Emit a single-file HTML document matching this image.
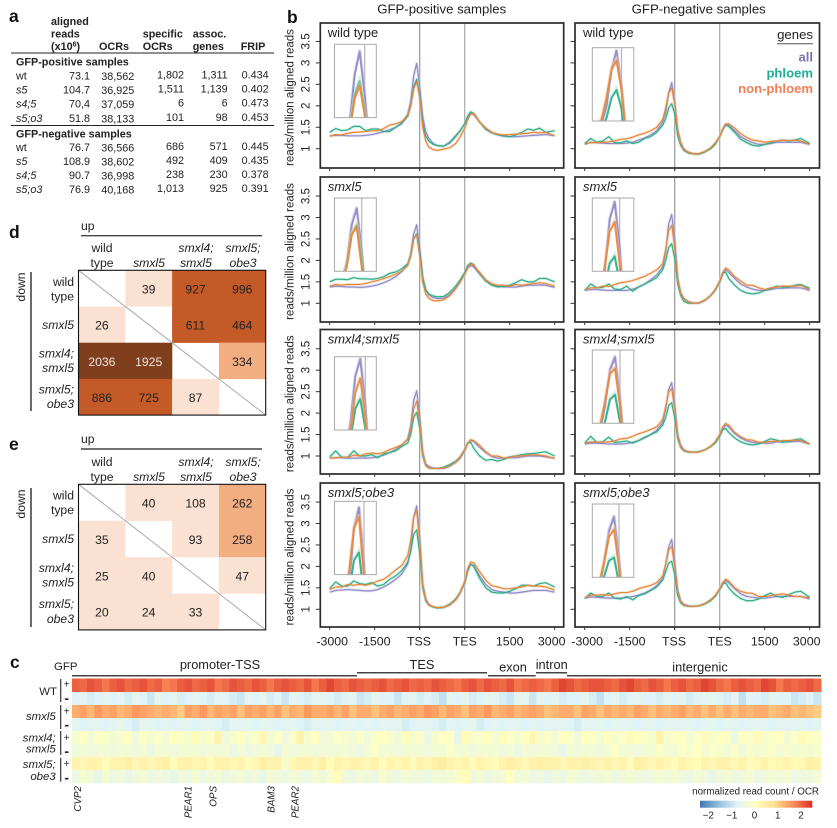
<!DOCTYPE html>
<html lang="en">
<head>
<meta charset="utf-8">
<title>ATAC-seq figure panels</title>
<style>
html,body{margin:0;padding:0;background:#fff;width:837px;height:828px;overflow:hidden}
svg{display:block;font-family:"Liberation Sans",Arial,sans-serif;fill:#222}
.pl{font-weight:bold;font-size:17.5px;fill:#111}
.tb{font-size:10.8px}
.b{font-weight:bold}
.i{font-style:italic}
.m{font-size:12.2px}
.hl{font-size:12.8px}
.g{font-size:9.8px;font-style:italic}
.c{font-size:11.4px}
</style>
</head>
<body>
<svg id="figure" xmlns="http://www.w3.org/2000/svg" width="837" height="828" viewBox="0 0 837 828">

<!-- Panel a: table -->
<g id="panel-a" class="tb">
  <text class="pl" x="9" y="22">a</text>
  <g class="b">
    <text x="51" y="25">aligned</text><text x="51" y="37.5">reads</text><text x="51" y="50">(x10<tspan font-size="7" dy="-3.5">6</tspan><tspan dy="3.5">)</tspan></text>
    <text x="99" y="50">OCRs</text>
    <text x="142.7" y="37.5">specific</text><text x="142.7" y="50">OCRs</text>
    <text x="192.7" y="37.5">assoc.</text><text x="192.7" y="50">genes</text>
    <text x="240.7" y="50">FRIP</text>
  </g>
  <line x1="11" x2="274" y1="53" y2="53" stroke="#222" stroke-width="1"/>
  <text class="b" x="16" y="65.5">GFP-positive samples</text>
  <g><text x="16" y="79.5">wt</text><text text-anchor="end" x="90" y="79.5">73.1</text><text text-anchor="end" x="134.3" y="80.2">38,562</text><text text-anchor="end" x="184" y="78.5">1,802</text><text text-anchor="end" x="227.7" y="78.5">1,311</text><text text-anchor="end" x="268.7" y="78.5">0.434</text></g>
  <g><text class="i" x="16" y="93.5">s5</text><text text-anchor="end" x="90" y="93.5">104.7</text><text text-anchor="end" x="134.3" y="94.2">36,925</text><text text-anchor="end" x="184" y="92.5">1,511</text><text text-anchor="end" x="227.7" y="92.5">1,139</text><text text-anchor="end" x="268.7" y="92.5">0.402</text></g>
  <g><text class="i" x="16" y="107.5">s4;5</text><text text-anchor="end" x="90" y="107.5">70,4</text><text text-anchor="end" x="134.3" y="108.2">37,059</text><text text-anchor="end" x="184" y="106.5">6</text><text text-anchor="end" x="227.7" y="106.5">6</text><text text-anchor="end" x="268.7" y="106.5">0.473</text></g>
  <g><text class="i" x="16" y="122">s5;o3</text><text text-anchor="end" x="90" y="122">51.8</text><text text-anchor="end" x="134.3" y="122.7">38,133</text><text text-anchor="end" x="184" y="121">101</text><text text-anchor="end" x="227.7" y="121">98</text><text text-anchor="end" x="268.7" y="121">0.453</text></g>
  <line x1="11" x2="274" y1="125.5" y2="125.5" stroke="#222" stroke-width="1"/>
  <text class="b" x="16" y="137.5">GFP-negative samples</text>
  <g><text x="16" y="151">wt</text><text text-anchor="end" x="90" y="151">76.7</text><text text-anchor="end" x="134.3" y="151.7">36,566</text><text text-anchor="end" x="184" y="150">686</text><text text-anchor="end" x="227.7" y="150">571</text><text text-anchor="end" x="268.7" y="150">0.445</text></g>
  <g><text class="i" x="16" y="165">s5</text><text text-anchor="end" x="90" y="165">108.9</text><text text-anchor="end" x="134.3" y="165.7">38,602</text><text text-anchor="end" x="184" y="164">492</text><text text-anchor="end" x="227.7" y="164">409</text><text text-anchor="end" x="268.7" y="164">0.435</text></g>
  <g><text class="i" x="16" y="179">s4;5</text><text text-anchor="end" x="90" y="179">90.7</text><text text-anchor="end" x="134.3" y="179.7">36,998</text><text text-anchor="end" x="184" y="178">238</text><text text-anchor="end" x="227.7" y="178">230</text><text text-anchor="end" x="268.7" y="178">0.378</text></g>
  <g><text class="i" x="16" y="193">s5;o3</text><text text-anchor="end" x="90" y="193">76.9</text><text text-anchor="end" x="134.3" y="193.7">40,168</text><text text-anchor="end" x="184" y="192">1,013</text><text text-anchor="end" x="227.7" y="192">925</text><text text-anchor="end" x="268.7" y="192">0.391</text></g>
</g>

<!-- Panel d labels -->
<g class="m">
  <text class="pl" x="9" y="238">d</text>
  <text x="81" y="230">up</text>
  <line x1="81" x2="262" y1="235.7" y2="235.7" stroke="#444" stroke-width="1.4"/>
  <g text-anchor="middle">
    <text x="102" y="252">wild</text><text x="102" y="267">type</text>
    <text class="i" x="149" y="267">smxl5</text>
    <text class="i" x="196" y="252">smxl4;</text><text class="i" x="196" y="267">smxl5</text>
    <text class="i" x="243" y="252">smxl5;</text><text class="i" x="243" y="267">obe3</text>
  </g>
  <text transform="translate(25,287) rotate(-90)" text-anchor="middle">down</text>
  <line x1="31" x2="31" y1="272" y2="411" stroke="#444" stroke-width="1.6"/>
  <g text-anchor="end">
    <text x="74" y="286">wild</text><text x="74" y="300.7">type</text>
    <text class="i" x="74" y="329">smxl5</text>
    <text class="i" x="74" y="357.7">smxl4;</text><text class="i" x="74" y="372">smxl5</text>
    <text class="i" x="74" y="393.5">smxl5;</text><text class="i" x="74" y="408">obe3</text>
  </g>
</g>

<!-- Panel e labels -->
<g class="m">
  <text class="pl" x="9" y="450">e</text>
  <text x="81" y="443">up</text>
  <line x1="81" x2="262" y1="449" y2="449" stroke="#444" stroke-width="1.4"/>
  <g text-anchor="middle">
    <text x="102" y="466">wild</text><text x="102" y="481">type</text>
    <text class="i" x="149" y="481">smxl5</text>
    <text class="i" x="196" y="466">smxl4;</text><text class="i" x="196" y="481">smxl5</text>
    <text class="i" x="243" y="466">smxl5;</text><text class="i" x="243" y="481">obe3</text>
  </g>
  <text transform="translate(25,504) rotate(-90)" text-anchor="middle">down</text>
  <line x1="31" x2="31" y1="488" y2="627" stroke="#444" stroke-width="1.6"/>
  <g text-anchor="end">
    <text x="74" y="499.3">wild</text><text x="74" y="514">type</text>
    <text class="i" x="74" y="543">smxl5</text>
    <text class="i" x="74" y="572">smxl4;</text><text class="i" x="74" y="586.7">smxl5</text>
    <text class="i" x="74" y="608">smxl5;</text><text class="i" x="74" y="623">obe3</text>
  </g>
</g>
<g id="matrices"></g>

<!-- Panel b labels -->
<text class="pl" x="287" y="23" font-size="19">b</text>
<text x="441.7" y="13.5" font-size="13.2" text-anchor="middle">GFP-positive samples</text>
<text x="698.7" y="13.5" font-size="13.2" text-anchor="middle">GFP-negative samples</text>
<g id="profiles"></g>
<g text-anchor="end">
  <text x="813" y="39" font-size="13.2">genes</text>
  <line x1="777" x2="813" y1="43.7" y2="43.7" stroke="#555" stroke-width="1"/>
  <text x="813" y="61.5" font-size="13.1" font-weight="bold" style="fill:#7b74a8">all</text>
  <text x="813" y="77.5" font-size="13.1" font-weight="bold" style="fill:#1fae96">phloem</text>
  <text x="813" y="93" font-size="13.1" font-weight="bold" style="fill:#ed7f55">non-phloem</text>
</g>

<!-- Panel c labels -->
<g>
  <text class="pl" x="10" y="668">c</text>
  <text class="c" x="54" y="670">GFP</text>
  <g class="hl" text-anchor="middle">
    <text x="220" y="669">promoter-TSS</text>
    <text x="422" y="669">TES</text>
    <text x="513" y="671.7">exon</text>
    <text x="551.7" y="669">intron</text>
    <text x="700" y="671.7">intergenic</text>
  </g>
  <g stroke="#444" stroke-width="1.5">
    <line x1="72" x2="357" y1="675.7" y2="675.7"/>
    <line x1="357" x2="487" y1="672.7" y2="672.7"/>
    <line x1="488" x2="535.7" y1="675.7" y2="675.7"/>
    <line x1="536" x2="567" y1="672.7" y2="672.7"/>
    <line x1="567" x2="821" y1="675.7" y2="675.7"/>
  </g>
  <g class="c" text-anchor="end">
    <text x="57" y="695">WT</text>
    <text class="i" x="55.7" y="720">smxl5</text>
    <text class="i" x="55.7" y="741.7">smxl4;</text><text class="i" x="55.7" y="752.5">smxl5</text>
    <text class="i" x="55.7" y="768">smxl5;</text><text class="i" x="55.7" y="780">obe3</text>
  </g>
  <g stroke="#333" stroke-width="1.2">
    <line x1="60.7" x2="60.7" y1="679" y2="702"/>
    <line x1="60.7" x2="60.7" y1="705" y2="729"/>
    <line x1="60.7" x2="60.7" y1="731" y2="755"/>
    <line x1="60.7" x2="60.7" y1="757.7" y2="781.7"/>
  </g>
  <g font-size="10" text-anchor="middle">
    <text x="66.7" y="687.5">+</text>
    <text x="66.7" y="714.5">+</text>
    <text x="66.7" y="741">+</text>
    <text x="66.7" y="767">+</text>
  </g>
  <g font-size="14" font-weight="bold" text-anchor="middle">
    <text x="66.7" y="703">-</text>
    <text x="66.7" y="729.5">-</text>
    <text x="66.7" y="756">-</text>
    <text x="66.7" y="782.5">-</text>
  </g>
  <g class="g" text-anchor="end">
    <text transform="translate(81,786) rotate(-90)">CVP2</text>
    <text transform="translate(191.5,786) rotate(-90)">PEAR1</text>
    <text transform="translate(216.5,786) rotate(-90)">OPS</text>
    <text transform="translate(274.5,786) rotate(-90)">BAM3</text>
    <text transform="translate(298.5,786) rotate(-90)">PEAR2</text>
  </g>
</g>
<g id="heatmap"></g>
<g>
  <defs>
    <linearGradient id="cbGrad" x1="0" x2="1" y1="0" y2="0">
      <stop offset="0" stop-color="#4575b4"/>
      <stop offset="0.165" stop-color="#91bfdb"/>
      <stop offset="0.33" stop-color="#e0f3f8"/>
      <stop offset="0.496" stop-color="#ffffbf"/>
      <stop offset="0.66" stop-color="#fee090"/>
      <stop offset="0.83" stop-color="#fc8d59"/>
      <stop offset="1" stop-color="#d73027"/>
    </linearGradient>
  </defs>
  <text x="819" y="794.3" font-size="9.8" text-anchor="end">normalized read count / OCR</text>
  <rect x="700" y="800.7" width="112.3" height="7" fill="url(#cbGrad)"/>
  <g font-size="9.8" text-anchor="middle">
    <text x="708.3" y="818.3">−2</text><text x="731.7" y="818.3">−1</text><text x="754.5" y="818.3">0</text><text x="777.7" y="818.3">1</text><text x="801" y="818.3">2</text>
  </g>
</g>
</svg>

<script>
// ---------- profile chart data ----------
const sampleBp = [-3000,-2800,-2600,-2400,-2200,-2000,-1800,-1600,-1400,-1200,-1000,-800,-600,-400,-300,-200,-100,0,100,200,300,450,600,800,1000,1200,1350,1500,1600,1700,1800,2000,2200,2400,2600,2800,3000,3200,3400,3600,3800,4000,4200,4500];
const xTickBp = [-3000,-1500,0,1500,3000,4500];
const xTickLabels = ['-3000','-1500','TSS','TES','1500','3000'];
const yTickValues = [1,1.5,2,2.5,3,3.5];
const yTickLabels = ['1','1.5','2','2.5','3','3.5'];

const posWtAll = [1.30,1.31,1.31,1.30,1.30,1.30,1.31,1.33,1.36,1.40,1.44,1.50,1.58,1.80,2.10,2.70,2.99,2.45,1.75,1.40,1.25,1.12,1.07,1.06,1.13,1.28,1.42,1.58,1.72,1.82,1.80,1.62,1.48,1.38,1.32,1.29,1.28,1.28,1.29,1.30,1.31,1.32,1.33,1.30];
const posWtPhloem = [1.38,1.47,1.42,1.44,1.52,1.52,1.42,1.46,1.46,1.40,1.40,1.50,1.60,1.75,2.00,2.45,2.62,2.25,1.60,1.30,1.18,1.10,1.07,1.06,1.15,1.30,1.42,1.58,1.76,1.86,1.82,1.62,1.45,1.37,1.33,1.30,1.28,1.32,1.38,1.46,1.43,1.48,1.38,1.42];
const posWtNon = [1.29,1.33,1.32,1.36,1.38,1.39,1.40,1.42,1.42,1.47,1.55,1.58,1.63,1.78,2.00,2.40,2.56,2.20,1.50,1.18,1.04,0.98,0.96,0.99,1.02,1.12,1.28,1.48,1.68,1.80,1.83,1.62,1.48,1.38,1.34,1.32,1.33,1.34,1.35,1.36,1.38,1.37,1.38,1.30];

const negWtAll = [1.12,1.14,1.14,1.13,1.12,1.12,1.12,1.13,1.15,1.20,1.25,1.32,1.42,1.62,1.85,2.30,2.54,2.10,1.45,1.15,1.00,0.92,0.89,0.88,0.93,1.02,1.12,1.28,1.45,1.56,1.56,1.42,1.28,1.20,1.14,1.10,1.10,1.12,1.15,1.15,1.15,1.15,1.15,1.10];
const negWtPhloem = [1.12,1.24,1.15,1.18,1.28,1.14,1.14,1.18,1.12,1.15,1.24,1.28,1.38,1.55,1.70,1.95,2.05,1.82,1.30,1.08,0.96,0.90,0.88,0.87,0.92,1.00,1.10,1.28,1.45,1.55,1.52,1.38,1.22,1.14,1.08,1.06,1.10,1.14,1.18,1.20,1.18,1.20,1.24,1.12];
const negWtNon = [1.10,1.15,1.14,1.15,1.16,1.18,1.22,1.23,1.27,1.32,1.36,1.42,1.50,1.68,1.95,2.30,2.42,2.05,1.42,1.12,0.98,0.92,0.88,0.88,0.93,1.02,1.13,1.28,1.46,1.58,1.58,1.48,1.35,1.26,1.20,1.18,1.15,1.17,1.18,1.20,1.19,1.20,1.18,1.10];

const posS5All = [1.38,1.40,1.39,1.38,1.38,1.37,1.38,1.40,1.43,1.48,1.54,1.62,1.74,1.90,2.15,2.62,2.83,2.30,1.60,1.30,1.20,1.13,1.11,1.12,1.20,1.35,1.50,1.68,1.82,1.88,1.85,1.68,1.52,1.45,1.40,1.38,1.38,1.38,1.40,1.42,1.42,1.43,1.42,1.37];
const posS5Phloem = [1.50,1.56,1.56,1.55,1.60,1.57,1.57,1.56,1.58,1.62,1.70,1.73,1.80,1.92,2.10,2.50,2.62,2.20,1.60,1.32,1.22,1.17,1.15,1.16,1.25,1.40,1.55,1.72,1.88,1.94,1.90,1.70,1.52,1.42,1.38,1.40,1.42,1.48,1.55,1.50,1.50,1.58,1.58,1.50];
const posS5Non = [1.40,1.44,1.42,1.44,1.44,1.44,1.46,1.50,1.53,1.58,1.62,1.68,1.75,1.88,2.10,2.50,2.60,2.10,1.50,1.22,1.12,1.06,1.06,1.08,1.18,1.34,1.50,1.68,1.84,1.92,1.88,1.72,1.55,1.45,1.42,1.42,1.40,1.44,1.42,1.44,1.46,1.48,1.46,1.40];

const negS5All = [1.30,1.32,1.32,1.31,1.30,1.30,1.30,1.30,1.33,1.38,1.45,1.55,1.66,1.85,2.20,2.85,3.07,2.50,1.60,1.25,1.12,1.04,1.01,1.00,1.06,1.18,1.32,1.50,1.68,1.80,1.72,1.58,1.45,1.38,1.33,1.30,1.30,1.32,1.35,1.35,1.36,1.36,1.36,1.30];
const negS5Phloem = [1.30,1.45,1.36,1.37,1.45,1.33,1.32,1.40,1.28,1.38,1.45,1.52,1.60,1.78,2.00,2.30,2.39,2.05,1.45,1.18,1.05,1.00,1.00,1.01,1.07,1.18,1.30,1.50,1.70,1.73,1.58,1.42,1.30,1.24,1.22,1.24,1.30,1.34,1.40,1.38,1.38,1.42,1.44,1.35];
const negS5Non = [1.32,1.36,1.36,1.40,1.39,1.44,1.48,1.50,1.53,1.58,1.63,1.70,1.78,1.92,2.25,2.70,2.82,2.30,1.55,1.22,1.10,1.03,1.00,1.01,1.07,1.18,1.32,1.52,1.72,1.82,1.78,1.62,1.52,1.42,1.42,1.36,1.32,1.36,1.38,1.40,1.40,1.40,1.42,1.32];

const posS45All = [0.96,0.96,0.96,0.95,0.95,0.95,0.95,0.96,0.98,1.02,1.08,1.15,1.25,1.40,1.70,2.30,2.52,1.95,1.10,0.82,0.76,0.72,0.71,0.71,0.76,0.85,0.95,1.12,1.30,1.36,1.34,1.20,1.08,0.99,0.95,0.95,0.96,0.96,0.98,1.00,1.00,1.00,0.98,0.95];
const posS45Phloem = [0.98,1.12,0.97,0.97,1.12,1.00,1.00,1.03,0.96,1.05,1.08,1.12,1.22,1.30,1.50,1.90,2.02,1.65,1.00,0.78,0.72,0.71,0.71,0.74,0.80,0.88,0.98,1.15,1.30,1.32,1.18,1.00,0.90,0.92,0.88,0.92,0.98,1.00,1.03,1.05,1.06,1.08,1.10,1.00];
const posS45Non = [0.95,0.96,0.97,0.97,1.02,1.00,1.05,1.07,1.05,1.08,1.15,1.20,1.26,1.38,1.60,2.10,2.28,1.80,1.05,0.80,0.72,0.71,0.71,0.72,0.77,0.86,0.97,1.14,1.30,1.38,1.36,1.25,1.10,1.00,1.00,0.95,0.97,1.00,1.00,1.02,1.03,1.02,1.00,0.94];

const negS45All = [1.28,1.30,1.30,1.29,1.28,1.28,1.28,1.29,1.32,1.36,1.42,1.50,1.60,1.78,2.10,2.55,2.71,2.20,1.50,1.25,1.15,1.10,1.09,1.09,1.14,1.22,1.32,1.48,1.62,1.72,1.68,1.52,1.42,1.35,1.32,1.30,1.30,1.30,1.33,1.33,1.33,1.34,1.34,1.28];
const negS45Phloem = [1.30,1.46,1.32,1.33,1.44,1.32,1.33,1.35,1.30,1.36,1.44,1.50,1.56,1.72,1.90,2.18,2.24,1.90,1.40,1.20,1.12,1.09,1.09,1.10,1.14,1.22,1.30,1.46,1.62,1.64,1.55,1.42,1.33,1.28,1.26,1.28,1.34,1.40,1.37,1.32,1.34,1.38,1.40,1.28];
const negS45Non = [1.30,1.33,1.32,1.32,1.33,1.35,1.40,1.41,1.46,1.52,1.56,1.62,1.68,1.85,2.15,2.50,2.57,2.10,1.45,1.22,1.13,1.10,1.09,1.09,1.14,1.23,1.33,1.50,1.68,1.76,1.72,1.55,1.45,1.38,1.37,1.32,1.32,1.34,1.34,1.36,1.36,1.37,1.36,1.28];

const posS5o3All = [1.40,1.44,1.45,1.46,1.45,1.44,1.43,1.43,1.46,1.52,1.60,1.70,1.82,2.05,2.40,3.15,3.41,2.70,1.60,1.25,1.12,1.06,1.03,1.04,1.10,1.22,1.38,1.62,1.90,2.05,2.02,1.78,1.58,1.46,1.42,1.40,1.38,1.38,1.40,1.42,1.44,1.44,1.44,1.40];
const posS5o3Phloem = [1.48,1.64,1.54,1.54,1.66,1.60,1.58,1.62,1.54,1.58,1.70,1.78,1.90,2.10,2.35,2.75,2.85,2.30,1.50,1.20,1.10,1.05,1.03,1.05,1.12,1.24,1.40,1.62,1.90,2.06,2.00,1.72,1.50,1.40,1.38,1.38,1.42,1.48,1.56,1.56,1.54,1.60,1.62,1.52];
const posS5o3Non = [1.46,1.52,1.52,1.58,1.56,1.58,1.56,1.60,1.66,1.70,1.80,1.92,2.02,2.25,2.60,3.15,3.30,2.55,1.55,1.22,1.10,1.06,1.04,1.05,1.10,1.22,1.40,1.65,1.95,2.10,2.08,1.88,1.68,1.55,1.52,1.48,1.48,1.50,1.52,1.56,1.54,1.54,1.52,1.45];

const negS5o3All = [1.26,1.29,1.28,1.27,1.26,1.26,1.26,1.27,1.30,1.33,1.38,1.45,1.55,1.72,2.05,2.45,2.63,2.10,1.45,1.20,1.12,1.08,1.07,1.08,1.13,1.22,1.32,1.46,1.58,1.68,1.62,1.48,1.36,1.30,1.28,1.26,1.26,1.28,1.30,1.30,1.30,1.30,1.30,1.24];
const negS5o3Phloem = [1.25,1.38,1.30,1.30,1.38,1.26,1.24,1.30,1.22,1.32,1.36,1.44,1.52,1.68,1.88,2.08,2.12,1.80,1.32,1.15,1.09,1.07,1.07,1.08,1.12,1.20,1.30,1.46,1.60,1.62,1.50,1.35,1.25,1.20,1.20,1.24,1.32,1.38,1.30,1.28,1.34,1.40,1.42,1.28];
const negS5o3Non = [1.27,1.33,1.33,1.34,1.33,1.36,1.39,1.39,1.42,1.48,1.52,1.56,1.62,1.78,2.05,2.38,2.47,2.00,1.40,1.18,1.10,1.07,1.07,1.08,1.13,1.22,1.32,1.48,1.62,1.70,1.66,1.50,1.42,1.38,1.37,1.30,1.30,1.32,1.34,1.36,1.33,1.30,1.30,1.27];

const rowNames = ['wild type','smxl5','smxl4;smxl5','smxl5;obe3'];
const columnNames = ['gfp-positive','gfp-negative'];
const allSeries = [[posWtAll,negWtAll],[posS5All,negS5All],[posS45All,negS45All],[posS5o3All,negS5o3All]];
const phloemSeries = [[posWtPhloem,negWtPhloem],[posS5Phloem,negS5Phloem],[posS45Phloem,negS45Phloem],[posS5o3Phloem,negS5o3Phloem]];
const nonPhloemSeries = [[posWtNon,negWtNon],[posS5Non,negS5Non],[posS45Non,negS45Non],[posS5o3Non,negS5o3Non]];
// highest value visible in each magnified inset
const insetTopValue = [[3.08,2.58],[2.96,3.12],[2.55,2.80],[3.49,2.79]];

// ---------- matrix data ----------
const matrixDCounts = [[null,39,927,996],[26,null,611,464],[2036,1925,null,334],[886,725,87,null]];
const matrixECounts = [[null,40,108,262],[35,null,93,258],[25,40,null,47],[20,24,33,null]];

// ---------- heatmap data ----------
const heatWtPos = [2.0,1.9,2.1,2.0,1.8,2.0,2.1,1.9,2.0,2.1,1.9,2.0,1.7,1.8,2.0,2.1,1.9,2.0,2.1,1.8,1.9,2.1,2.0,1.9,2.1,2.0,1.8,2.0,2.1,2.0,1.9,2.1,1.8,2.0,2.2,2.0,1.9,2.1,2.0,1.9,2.0,2.1,1.9,2.0,2.1,1.9,2.0,1.9,2.1,2.0,1.9,1.8,2.0,2.1,1.9,2.1,2.0,1.9,2.1,1.8,1.9,2.0,1.9,1.8,2.0,2.2,2.1,1.9,2.0,2.1,2.1,2.0,1.9,2.1,2.2,2.0,1.9,2.1,2.0,1.8,2.0,2.1,1.9,2.0,2.2,2.1,1.9,1.8,2.0,2.1,2.0,1.9,2.2,2.1,1.8,2.0,1.9,2.0,2.1,1.9];
const heatWtNeg = [-0.8,-0.7,-0.9,-0.8,-0.7,-0.8,-0.7,-0.9,-0.7,-0.8,-1.0,-0.7,-0.8,-0.7,-0.9,-0.8,-0.7,-0.8,-0.9,-0.7,-0.8,-0.9,-1.0,-0.7,-0.8,-0.7,-0.9,-0.8,-1.0,-0.7,-0.8,-0.9,-0.7,-0.7,-0.8,-0.9,-0.8,-0.7,-1.0,-0.9,-0.7,-0.8,-0.8,-1.0,-0.8,-0.7,-0.9,-0.8,-0.9,-1.1,-0.7,-0.8,-0.7,-0.9,-0.8,-0.7,-0.7,-0.9,-1.0,-0.7,-0.7,-1.0,-0.7,-0.8,-0.7,-0.9,-0.8,-0.8,-0.7,-0.9,-1.1,-0.8,-0.7,-0.9,-0.8,-0.7,-0.8,-0.8,-0.9,-0.7,-0.8,-0.7,-0.9,-0.8,-0.7,-0.7,-0.8,-0.9,-0.7,-1.1,-0.8,-0.8,-0.9,-0.7,-0.8,-0.8,-1.0,-0.9,-0.8,-1.0];
const heatS5Pos = [1.3,1.4,1.2,1.5,1.3,1.4,1.2,1.3,1.5,1.4,1.3,1.2,1.3,1.2,1.0,1.4,1.3,1.5,1.2,1.4,1.3,1.4,1.1,1.4,1.3,1.4,1.2,1.4,1.1,1.3,1.2,1.5,1.3,1.3,1.4,1.2,1.4,1.1,1.3,1.3,1.1,1.3,1.4,1.2,1.3,1.4,1.3,1.5,1.4,1.2,1.4,1.3,1.1,1.4,1.3,1.5,1.2,1.3,1.4,1.2,1.3,1.4,1.3,1.1,1.2,1.3,1.3,1.1,1.4,1.3,1.1,1.3,1.2,1.3,1.2,1.4,1.3,1.1,1.3,1.2,1.3,1.4,1.2,1.3,1.1,1.3,1.1,1.3,1.1,1.3,1.2,1.3,1.3,1.1,1.2,1.3,1.1,1.2,1.1,1.0];
const heatS5Neg = [-0.7,-0.8,-0.7,-0.7,-0.8,-0.7,-0.6,-0.8,-0.9,-0.7,-0.7,-0.8,-0.7,-0.8,-0.7,-0.7,-0.8,-0.7,-0.7,-0.8,-0.9,-0.7,-0.7,-0.7,-0.8,-0.7,-0.7,-0.8,-0.7,-0.7,-0.8,-0.9,-0.7,-0.7,-0.7,-0.8,-0.7,-0.7,-0.8,-0.7,-0.8,-0.7,-0.7,-0.7,-0.9,-0.8,-0.7,-0.7,-0.8,-0.9,-0.7,-0.8,-0.7,-0.7,-0.9,-0.8,-0.7,-0.8,-0.7,-0.7,-0.8,-0.7,-0.8,-0.7,-0.7,-0.7,-0.8,-0.9,-0.7,-0.7,-0.7,-0.8,-0.7,-0.7,-0.7,-0.8,-0.7,-0.7,-0.8,-0.7,-0.7,-0.7,-0.7,-0.8,-0.7,-0.7,-0.8,-0.7,-0.7,-0.8,-0.7,-0.7,-0.7,-0.8,-0.7,-0.7,-0.7,-0.7,-0.8,-0.7];
const heatS45Pos = [-0.2,-0.1,-0.3,-0.1,-0.1,-0.3,-0.2,0.0,-0.4,-0.1,-0.2,-0.1,-0.3,0.0,-0.1,-0.2,0.1,-0.2,-0.1,0.3,-0.4,-0.2,0.0,-0.3,-0.1,0.2,-0.3,-0.1,-0.4,-0.1,0.3,-0.2,0.0,-0.4,-0.3,-0.1,-0.2,-0.3,-0.1,-0.4,-0.1,0.0,-0.2,-0.4,0.1,-0.2,-0.1,-0.5,-0.2,0.0,-0.1,-0.6,0.1,-0.2,-0.1,0.0,-0.3,0.1,-0.1,-0.2,0.0,0.2,-0.2,-0.1,-0.3,0.0,-0.1,-0.4,0.0,-0.1,-0.3,0.0,-0.2,-0.1,0.1,0.0,-0.1,-0.2,0.3,-0.2,-0.1,0.0,-0.3,-0.1,0.1,-0.2,0.0,-0.1,-0.5,0.0,-0.1,0.1,-0.2,-0.1,0.0,-0.3,-0.1,0.1,0.0,-0.1];
const heatS45Neg = [-0.4,-0.3,-0.4,-0.3,-0.3,-0.4,-0.3,-0.3,-0.4,-0.3,-0.5,-0.3,-0.3,-0.4,-0.3,-0.3,-0.3,-0.4,-0.3,-0.4,-0.3,-0.5,-0.3,-0.5,-0.4,-0.3,-0.4,-0.6,-0.3,-0.4,-0.3,-0.3,-0.4,-0.3,-0.4,-0.3,-0.3,-0.4,-0.5,-0.3,-0.1,-0.3,-0.3,-0.4,-0.3,-0.3,-0.3,-0.4,-0.3,-0.3,-0.1,-0.3,-0.3,-0.4,-0.3,-0.3,-0.3,-0.4,-0.3,-0.5,-0.3,-0.4,-0.3,-0.3,-0.4,-0.6,-0.3,-0.4,-0.3,-0.3,-0.4,-0.3,-0.1,-0.3,-0.3,-0.4,-0.3,-0.3,-0.1,-0.3,-0.3,-0.1,-0.2,0.0,-0.3,-0.1,-0.2,-0.3,-0.1,-0.4,-0.2,-0.3,-0.2,-0.1,-0.3,-0.2,-0.3,-0.2,-0.3,-0.2];
const heatS5o3Pos = [0.3,0.2,0.3,0.3,0.1,0.3,0.3,0.4,0.2,0.3,0.2,0.3,0.4,0.1,0.3,0.3,0.2,0.3,0.1,0.3,0.3,0.2,0.3,0.1,0.2,0.4,0.3,0.3,-0.2,0.2,0.3,0.3,0.2,0.4,0.1,0.3,0.2,0.3,0.3,0.2,0.3,0.1,0.3,0.2,0.3,0.1,0.3,0.2,0.4,0.5,0.3,0.2,0.3,0.1,0.3,0.2,0.1,0.3,0.4,0.3,0.2,0.3,0.4,0.3,0.3,0.2,0.3,0.3,0.4,0.3,0.2,0.3,0.2,0.3,0.1,0.4,0.3,0.2,0.3,0.2,0.1,0.3,0.2,0.1,0.3,0.2,0.3,0.3,0.2,0.3,0.1,0.2,0.3,0.1,0.2,0.3,0.1,0.2,0.4,0.3];
const heatS5o3Neg = [-0.5,-0.2,-0.4,-0.6,-0.3,-0.5,-0.4,-0.6,-0.4,-0.3,-0.5,-0.4,-0.5,-0.6,-0.4,-0.5,-0.3,-0.5,-0.4,-0.3,-0.5,-0.4,-0.3,-0.5,-0.4,-0.6,-0.3,-0.4,-0.5,-0.3,-0.4,-0.5,-0.3,-0.4,-0.2,0.1,-0.4,-0.5,-0.3,-0.4,-0.5,-0.2,-0.4,-0.5,-0.3,-0.4,-0.4,-0.5,-0.3,-0.4,-0.3,-0.2,0.1,-0.4,-0.3,-0.5,-0.4,-0.3,0.0,-0.4,-0.3,-0.5,-0.4,-0.6,-0.4,-0.5,-0.3,-0.4,-0.5,-0.4,-0.4,-0.3,-0.5,-0.4,-0.3,-0.4,-0.5,-0.4,-0.3,-0.4,-0.3,-0.4,-0.5,-0.3,-0.4,-0.6,-0.4,-0.3,-0.5,-0.4,-0.3,-0.5,-0.4,-0.3,-0.4,-0.3,-0.5,-0.4,-0.4,-0.3];
const heatRowNames = ['wt-positive','wt-negative','smxl5-positive','smxl5-negative','smxl4-smxl5-positive','smxl4-smxl5-negative','smxl5-obe3-positive','smxl5-obe3-negative'];
const heatRows = [heatWtPos,heatWtNeg,heatS5Pos,heatS5Neg,heatS45Pos,heatS45Neg,heatS5o3Pos,heatS5o3Neg];

// ---------- geometry ----------
const NS = 'http://www.w3.org/2000/svg';
const plotLeft = [320.3,575];
const plotRight = [563.7,819.5];
const plotTop = [23,177,329.5,483];
const plotBottom = [168,322,474,627];
const valueOneY = [148.7,303.3,456,609.3];
const xOrigin = [329.7,584.7];
const insetLeft = [334.5,592.3];
const insetRight = [376.3,633.8];
const insetTop = [[44.3,47.7],[198,198],[356.7,350],[501.3,504]];
const insetTss = [[364.7,621.5],[361.7,619.7],[365.3,620],[364,619]];
const labelX = [327.7,583];
const xLabelShift = [2.5,0,-0.7,0,0,-3];

function node(tag, parent, attrs, text) {
  const el = document.createElementNS(NS, tag);
  for (const k in attrs) el.setAttribute(k, attrs[k]);
  if (text !== undefined) el.textContent = text;
  parent.appendChild(el);
  return el;
}
function xScale(col, bp) { return xOrigin[col] + (bp + 3000) * 0.03; }
function yScale(row, v) { return valueOneY[row] - (v - 1) * 42.9; }
function insetX(row, col, bp) { return insetTss[row][col] + bp * 0.05; }
function insetY(row, col, v) { return insetTop[row][col] + (insetTopValue[row][col] - v) * 80; }
function linePoints(series, fx, fy) {
  return series.map(function (v, i) { return fx(sampleBp[i]).toFixed(2) + ',' + fy(v).toFixed(2); }).join(' ');
}

const seriesStyle = [
  {key: 'all', get: allSeries, color: '#8f8bc6', band: '#c8c6e4'},
  {key: 'phloem', get: phloemSeries, color: '#2fae88', band: '#a5e0cd'},
  {key: 'non-phloem', get: nonPhloemSeries, color: '#e8873c', band: '#f6c9a3'}
];

const profiles = document.getElementById('profiles');
const defs = node('defs', profiles, {});
for (let row = 0; row < 4; row++) {
  for (let col = 0; col < 2; col++) {
    const panel = node('g', profiles, {});
    
    
    const fx = function (bp) { return xScale(col, bp); };
    const fy = function (v) { return yScale(row, v); };

    // TSS / TES reference lines
    [0, 1500].forEach(function (bp, idx) {
      const ref = node('line', panel, {x1: fx(bp), x2: fx(bp), y1: plotTop[row], y2: plotBottom[row] + 3, stroke: idx ? '#a8a8a8' : '#999', 'stroke-width': 1.2});
      
      
    });

    // main curves
    seriesStyle.forEach(function (s) {
      const vals = s.get[row][col];
      const band = node('polyline', panel, {points: linePoints(vals, fx, fy), fill: 'none', stroke: s.band, 'stroke-width': 3, 'stroke-opacity': 0.45, 'stroke-linejoin': 'round'});
      
      
    });
    seriesStyle.forEach(function (s) {
      const vals = s.get[row][col];
      const line = node('polyline', panel, {points: linePoints(vals, fx, fy), fill: 'none', stroke: s.color, 'stroke-width': 1.2, 'stroke-linejoin': 'round'});
      
      
    });

    // frame
    const frame = node('rect', panel, {x: plotLeft[col], y: plotTop[row], width: plotRight[col] - plotLeft[col], height: plotBottom[row] - plotTop[row], fill: 'none', stroke: '#2b2b2b', 'stroke-width': 1.7});
    
    

    // y ticks
    yTickValues.forEach(function (v, i) {
      const t = node('line', panel, {x1: plotLeft[col] - 4.5, x2: plotLeft[col], y1: fy(v), y2: fy(v), stroke: '#333', 'stroke-width': 1});
      
      
      if (col === 0) {
        const lab = node('text', panel, {transform: 'translate(309.5,' + fy(v).toFixed(1) + ') rotate(-90)', 'text-anchor': 'middle', 'font-size': 11.6}, yTickLabels[i]);
        
        
      }
    });
    if (col === 0) {
      const title = node('text', panel, {transform: 'translate(293.3,' + ((plotTop[row] + plotBottom[row]) / 2 + 2) + ') rotate(-90)', 'text-anchor': 'middle', 'font-size': 11.5}, 'reads/million aligned reads');
      
      
    }

    // x ticks
    xTickBp.forEach(function (bp, i) {
      const t = node('line', panel, {x1: fx(bp), x2: fx(bp), y1: plotBottom[row], y2: plotBottom[row] + 3, stroke: '#333', 'stroke-width': 1});
      
      
      if (row === 3) {
        const lab = node('text', panel, {x: fx(bp) + xLabelShift[i], y: 645.7, 'text-anchor': 'middle', 'font-size': 12.4}, xTickLabels[i]);
        
        
      }
    });

    // genotype label
    const name = node('text', panel, {x: labelX[col], y: plotTop[row] + 14, 'font-size': 13, 'font-style': row === 0 ? 'normal' : 'italic'}, rowNames[row]);
    
    

    // magnified inset
    const iTop = insetTop[row][col];
    const clipId = 'inset-clip-' + row + '-' + col;
    const clip = node('clipPath', defs, {id: clipId});
    node('rect', clip, {x: insetLeft[col], y: iTop, width: insetRight[col] - insetLeft[col], height: 73.3});
    const inset = node('g', panel, {});
    
    
    const ix = function (bp) { return insetX(row, col, bp); };
    const iy = function (v) { return insetY(row, col, v); };
    const bg = node('rect', inset, {x: insetLeft[col], y: iTop, width: insetRight[col] - insetLeft[col], height: 73.3, fill: '#fff', stroke: 'none'});
    
    
    const iRef = node('line', inset, {x1: insetTss[row][col], x2: insetTss[row][col], y1: iTop, y2: iTop + 73.3, stroke: '#b5b5b5', 'stroke-width': 1.2});
    
    
    const clipped = node('g', inset, {'clip-path': 'url(#' + clipId + ')'});
    seriesStyle.forEach(function (s) {
      const vals = s.get[row][col];
      const iBand = node('polyline', clipped, {points: linePoints(vals, ix, function (v) { return iy(v) - 2; }), fill: 'none', stroke: s.band, 'stroke-width': 3, 'stroke-opacity': 0.5});
      
      
      const iLine = node('polyline', clipped, {points: linePoints(vals, ix, iy), fill: 'none', stroke: s.color, 'stroke-width': 2, 'stroke-opacity': 0.92, 'stroke-linejoin': 'round'});
      
      
    });
    const iFrame = node('rect', inset, {x: insetLeft[col], y: iTop, width: insetRight[col] - insetLeft[col], height: 73.3, fill: 'none', stroke: '#aaa', 'stroke-width': 1});
    
    
  }
}

// ---------- matrices ----------
const matrices = document.getElementById('matrices');
function countColor(n) {
  if (n <= 200) return '#fae1d1';
  if (n <= 400) return '#f2ae80';
  if (n <= 1000) return '#c45a28';
  return '#7f3e1c';
}
function drawMatrix(counts, label, left, top, cellW, cellH) {
  const g = node('g', matrices, {});
  
  
  counts.forEach(function (row, r) {
    row.forEach(function (n, c) {
      if (n === null) return;
      const x = left + c * cellW, y = top + r * cellH;
      const cell = node('rect', g, {x: x, y: y, width: cellW + 0.2, height: cellH + 0.2, fill: countColor(n)});
      
      
      const txt = node('text', g, {x: x + cellW / 2, y: y + cellH / 2 + 5, 'text-anchor': 'middle', 'font-size': 12.2}, String(n));
      if (n > 1000) txt.style.fill = '#f0e6df';
      
      
    });
  });
  const w = cellW * counts[0].length, h = cellH * counts.length;
  const diag = node('line', g, {x1: left, y1: top, x2: left + w, y2: top + h, stroke: '#aaa', 'stroke-width': 1});
  
  
  const border = node('rect', g, {x: left, y: top, width: w, height: h, fill: 'none', stroke: '#111', 'stroke-width': 1.1});
  
  
}
drawMatrix(matrixDCounts, 'matrix-d', 78.5, 270.3, 46.8, 36.2);
drawMatrix(matrixECounts, 'matrix-e', 78.5, 484.3, 46.8, 36.4);

// ---------- heatmap ----------
const heatmap = document.getElementById('heatmap');
const heatValueStops = [-2.4,-1.6,-0.8,0,0.8,1.6,2.4];
const heatColorStops = [[69,117,180],[145,191,219],[224,243,248],[255,255,191],[254,224,144],[252,141,89],[215,48,39]];
function heatColor(v) {
  let i = 0;
  while (i < heatValueStops.length - 2 && v > heatValueStops[i + 1]) i++;
  const t = Math.max(0, Math.min(1, (v - heatValueStops[i]) / (heatValueStops[i + 1] - heatValueStops[i])));
  const a = heatColorStops[i], b = heatColorStops[i + 1];
  return 'rgb(' + a.map(function (c, k) { return Math.round(c + (b[k] - c) * t); }).join(',') + ')';
}
const heatLeft = 72, heatRight = 821, heatTop = 678.7, heatRowH = 13.05;
heatRows.forEach(function (vals, r) {
  const g = node('g', heatmap, {'shape-rendering': 'crispEdges'});
  
  
  const w = (heatRight - heatLeft) / vals.length;
  vals.forEach(function (v, c) {
    const cell = node('rect', g, {x: (heatLeft + c * w).toFixed(2), y: (heatTop + r * heatRowH).toFixed(2), width: (w + 0.5).toFixed(2), height: heatRowH + 0.2, fill: heatColor(v)});
    
    
  });
});
</script>
</body>
</html>
